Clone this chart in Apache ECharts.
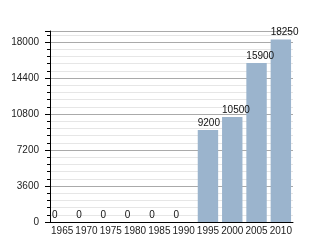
<!DOCTYPE html>
<html><head><meta charset="utf-8">
<script src="https://cdn.jsdelivr.net/npm/echarts@6/dist/echarts.min.js"></script>
<style>html,body{margin:0;padding:0;background:#fff}#c{width:320px;height:240px}</style>
</head><body><div id="c"></div>
<script>
var categories = ['1965','1970','1975','1980','1985','1990','1995','2000','2005','2010'];
var values = [0,0,0,0,0,0,9200,10500,15900,18250];
var FF = 'Liberation Sans, Arial, sans-serif';
var chart = echarts.init(document.getElementById('c'), null, {renderer:'canvas'});
chart.setOption({
  animation:false,
  grid:{left:50,right:27,top:31,bottom:18,containLabel:false},
  xAxis:{type:'category',data:categories,
    axisLine:{lineStyle:{color:'#000',width:1}},
    axisTick:{show:false},
    axisLabel:{interval:0,color:'#222',fontSize:10,fontFamily:FF,margin:4}},
  yAxis:{type:'value',min:0,max:19100,interval:3600,
    axisLine:{show:true,lineStyle:{color:'#000'}},
    axisTick:{show:true,length:5,lineStyle:{color:'#000'}},
    minorTick:{show:true,splitNumber:5,length:3,lineStyle:{color:'#000'}},
    splitLine:{show:true,lineStyle:{color:'#aaa'}},
    minorSplitLine:{show:true,lineStyle:{color:'#e6e6e6'}},
    axisLabel:{color:'#222',fontSize:10,fontFamily:FF,margin:11,showMaxLabel:false,
      formatter:function(v){return String(v);}}},
  series:[{type:'bar',data:values,barCategoryGap:'16%',
    itemStyle:{color:'#9bb4cd'},
    label:{show:true,position:[0,-12],color:'#111',fontSize:10,fontFamily:FF}}]
});
</script></body></html>
